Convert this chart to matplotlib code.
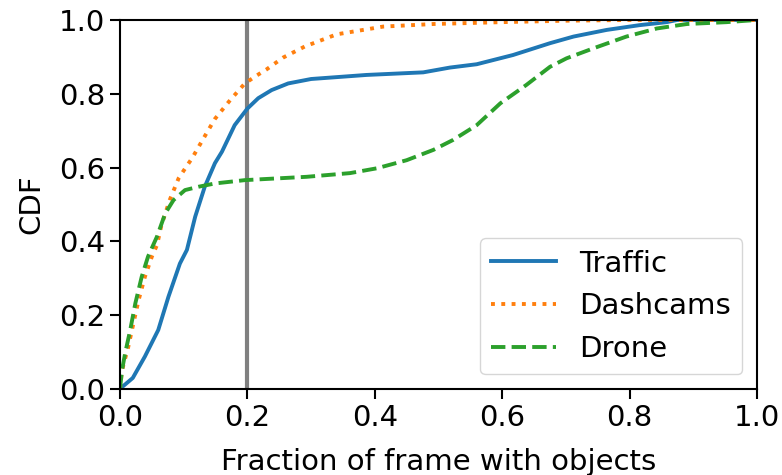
import matplotlib
matplotlib.use("Agg")
import matplotlib.pyplot as plt

traffic_x = [0.0, 0.003, 0.02, 0.039, 0.06, 0.076, 0.094, 0.105, 0.118, 0.133, 0.149, 0.16, 0.18, 0.2,
             0.217, 0.238, 0.264, 0.3, 0.387, 0.476, 0.518, 0.56, 0.617, 0.675, 0.712, 0.764, 0.816,
             0.858, 0.875, 1.0]
traffic_y = [0.0, 0.005, 0.03, 0.088, 0.16, 0.25, 0.34, 0.377, 0.467, 0.548, 0.612, 0.643, 0.715, 0.76,
             0.788, 0.81, 0.828, 0.84, 0.851, 0.858, 0.871, 0.88, 0.905, 0.937, 0.955, 0.973, 0.986,
             0.994, 1.0, 1.0]

dash_x = [0.0, 0.003, 0.013, 0.021, 0.029, 0.039, 0.05, 0.058, 0.065, 0.078, 0.092, 0.105, 0.113,
          0.131, 0.149, 0.173, 0.196, 0.215, 0.23, 0.256, 0.29, 0.34, 0.413, 0.492, 0.597, 0.7, 0.8, 1.0]
dash_y = [0.0, 0.05, 0.115, 0.178, 0.24, 0.304, 0.359, 0.39, 0.444, 0.512, 0.571, 0.605, 0.625,
          0.679, 0.732, 0.783, 0.828, 0.85, 0.866, 0.898, 0.928, 0.961, 0.982, 0.989, 0.994, 0.998, 1.0, 1.0]

drone_x = [0.0, 0.003, 0.008, 0.016, 0.024, 0.034, 0.044, 0.058, 0.071, 0.084, 0.102, 0.123, 0.149,
           0.196, 0.293, 0.361, 0.403, 0.45, 0.492, 0.523, 0.56, 0.597, 0.638, 0.675, 0.701, 0.743,
           0.795, 0.843, 0.89, 0.952, 1.0]
drone_y = [0.0, 0.05, 0.097, 0.16, 0.232, 0.304, 0.359, 0.413, 0.476, 0.512, 0.539, 0.548, 0.557,
           0.566, 0.575, 0.585, 0.598, 0.62, 0.648, 0.675, 0.715, 0.774, 0.824, 0.873, 0.896, 0.923,
           0.955, 0.977, 0.989, 0.994, 1.0]

threshold = 0.2

fig = plt.figure(figsize=(7.82, 4.75), dpi=100)
ax = fig.add_axes([0.1535, 0.181, 0.8145, 0.777])
ax.axvline(threshold, color="gray", linewidth=3, zorder=1)
ax.plot(traffic_x, traffic_y, color="#1f77b4", linestyle="-", linewidth=2.8, label="Traffic")
ax.plot(dash_x, dash_y, color="#ff7f0e", linestyle=":", linewidth=2.8, label="Dashcams")
ax.plot(drone_x, drone_y, color="#2ca02c", linestyle="--", linewidth=2.8, label="Drone")
ax.set_xlim(0, 1)
ax.set_ylim(0, 1)
ax.set_xticks([0.0, 0.2, 0.4, 0.6, 0.8, 1.0])
ax.set_yticks([0.0, 0.2, 0.4, 0.6, 0.8, 1.0])
ax.tick_params(labelsize=21, width=1.5, length=7)
for s in ax.spines.values():
    s.set_linewidth(1.5)
ax.set_xlabel("Fraction of frame with objects", fontsize=21, labelpad=12)
ax.set_ylabel("CDF", fontsize=21, labelpad=10)
ax.legend(loc="lower right", fontsize=21, handlelength=2.2)
fig.savefig("out.png", dpi=100)
